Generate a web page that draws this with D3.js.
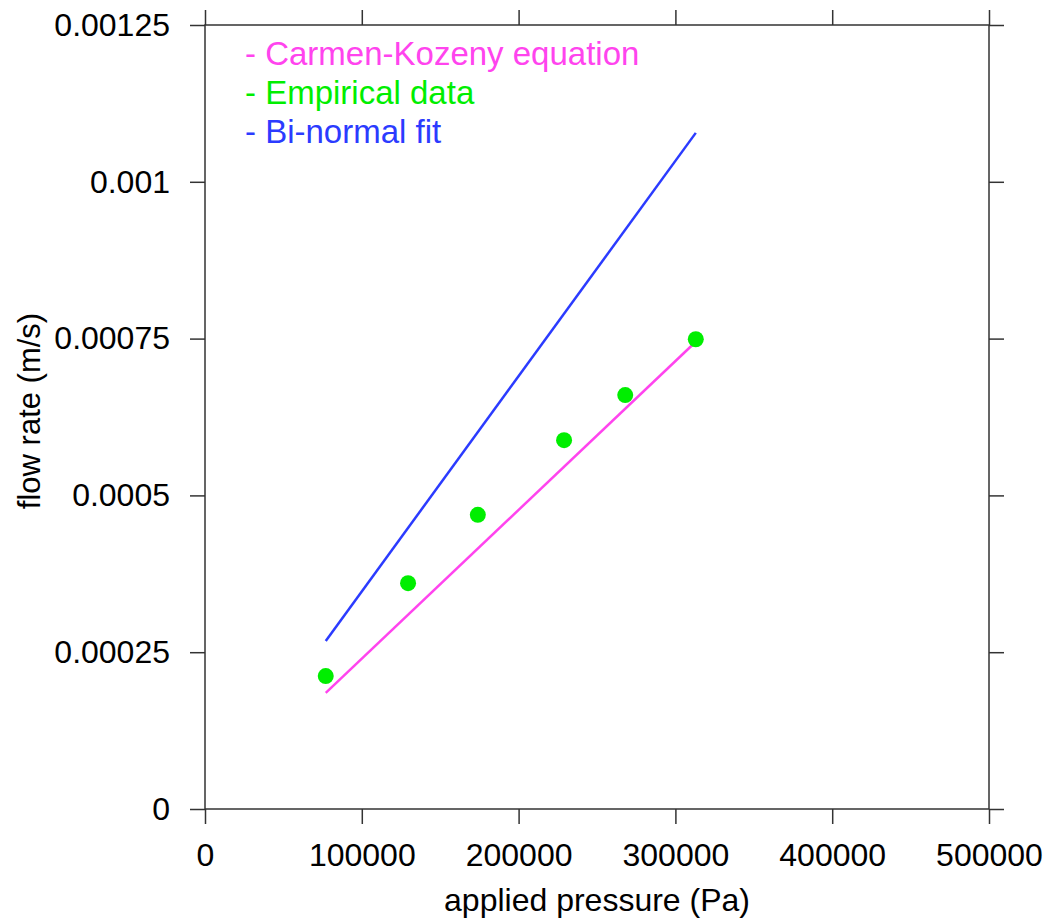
<!DOCTYPE html>
<html>
<head>
<meta charset="utf-8">
<script src="https://cdn.jsdelivr.net/npm/d3@7"></script>
<style>
  body { margin: 0; background: #fff; }
  svg text { font-family: "Liberation Sans", Arial, Helvetica, sans-serif; }
</style>
</head>
<body>
<div class="chart"></div>
<script>
// empirical measurements
const pressure = [77000, 129500, 174000, 229000, 268000, 313000];
const flowRate = [0.000212, 0.00036, 0.000469, 0.000588, 0.00066, 0.000749];

// model lines (end points only)
const ckPressure = [77000, 313000];
const ckFlow = [0.000185, 0.000745];
const fitPressure = [77000, 313000];
const fitFlow = [0.000268, 0.001078];

const xTicks = [0, 100000, 200000, 300000, 400000, 500000];
const yTicks = [0, 0.00025, 0.0005, 0.00075, 0.001, 0.00125];
const yTickLabels = ["0", "0.00025", "0.0005", "0.00075", "0.001", "0.00125"];

const legendNames = ["- Carmen-Kozeny equation", "- Empirical data", "- Bi-normal fit"];
const legendColors = ["#ff44ee", "#00ee00", "#2b3bff"];

const width = 1050, height = 920;
const margin = { left: 205, right: 61, top: 25, bottom: 111 };

const svg = d3.select(".chart")
  .append("svg")
  .attr("width", width)
  .attr("height", height);

const x = d3.scaleLinear()
  .domain([0, 500000])
  .range([margin.left, width - margin.right]);

const y = d3.scaleLinear()
  .domain([0, 0.00125])
  .range([height - margin.bottom, margin.top]);

const tickLen = 15;

// axes on all four sides, ticks pointing out
const fmtY = (d, i) => yTickLabels[i];

svg.append("g")
  .attr("transform", `translate(0,${height - margin.bottom})`)
  .call(d3.axisBottom(x).tickValues(xTicks).tickFormat(d3.format("d")).tickSize(tickLen).tickPadding(19));

svg.append("g")
  .attr("transform", `translate(0,${margin.top})`)
  .call(d3.axisTop(x).tickValues(xTicks).tickFormat("").tickSize(tickLen));

svg.append("g")
  .attr("transform", `translate(${margin.left},0)`)
  .call(d3.axisLeft(y).tickValues(yTicks).tickFormat(fmtY).tickSize(tickLen).tickPadding(20));

svg.append("g")
  .attr("transform", `translate(${width - margin.right},0)`)
  .call(d3.axisRight(y).tickValues(yTicks).tickFormat("").tickSize(tickLen));

svg.selectAll(".tick line")
  .attr("stroke", "#333")
  .attr("stroke-width", 1.5);

// drop the end caps of the domain paths so the frame is a clean box
svg.selectAll(".domain").remove();
svg.append("rect")
  .attr("x", x(0))
  .attr("y", y(0.00125))
  .attr("width", x(500000) - x(0))
  .attr("height", y(0) - y(0.00125))
  .attr("fill", "none")
  .attr("stroke", "#333")
  .attr("stroke-width", 1.5);

svg.selectAll(".tick text")
  .attr("font-size", 32)
  .attr("fill", "#000")
  .style("font-family", "'Liberation Sans', Arial, sans-serif");

// axis titles
svg.append("text")
  .attr("x", (x(0) + x(500000)) / 2)
  .attr("y", 911)
  .attr("text-anchor", "middle")
  .attr("font-size", 32)
  .text("applied pressure (Pa)");

svg.append("text")
  .attr("transform", `translate(40,${(y(0) + y(0.00125)) / 2 - 6}) rotate(-90)`)
  .attr("text-anchor", "middle")
  .attr("font-size", 31)
  .text("flow rate (m/s)");

const line = d3.line()
  .x((d) => x(d[0]))
  .y((d) => y(d[1]));

svg.append("path")
  .datum(d3.zip(fitPressure, fitFlow))
  .attr("d", line)
  .attr("fill", "none")
  .attr("stroke", legendColors[2])
  .attr("stroke-width", 2.5);

svg.append("path")
  .datum(d3.zip(ckPressure, ckFlow))
  .attr("d", line)
  .attr("fill", "none")
  .attr("stroke", legendColors[0])
  .attr("stroke-width", 2.5);

svg.selectAll(".dot")
  .data(d3.zip(pressure, flowRate))
  .join("circle")
  .attr("class", "dot")
  .attr("cx", (d) => x(d[0]))
  .attr("cy", (d) => y(d[1]))
  .attr("r", 8)
  .attr("fill", legendColors[1]);

// legend
svg.selectAll(".legend")
  .data(legendNames)
  .join("text")
  .attr("class", "legend")
  .attr("x", 245)
  .attr("y", (d, i) => 65 + i * 39)
  .attr("font-size", 33)
  .attr("fill", (d, i) => legendColors[i])
  .text((d) => d);
</script>
</body>
</html>
